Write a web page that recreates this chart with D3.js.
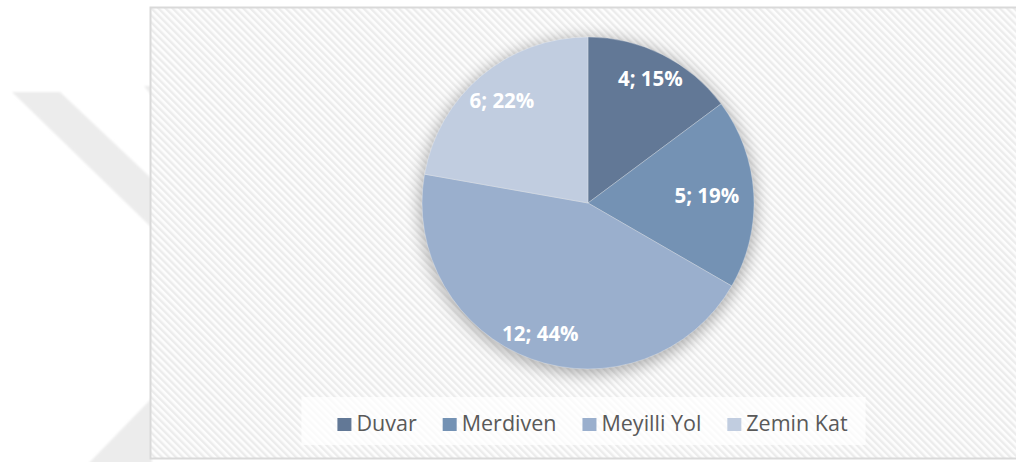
<!DOCTYPE html>
<html>
<head>
<meta charset="utf-8">
<script src="https://cdn.jsdelivr.net/npm/d3@7"></script>
<style>
  html, body { margin: 0; padding: 0; background: #ffffff; }
  svg { display: block; }
</style>
</head>
<body>
<svg id="chart" width="1016" height="462"></svg>
<script>
// Kategoriler ve sayılar
const categories = ["Duvar", "Merdiven", "Meyilli Yol", "Zemin Kat"];
const counts = [4, 5, 12, 6];
const sliceColors = ["#627896", "#7492b4", "#9aafcd", "#c1cde0"];

// Etiketlerin merkezden uzaklığı (yarıçap oranı)
const labelRadiusFrac = [0.837, 0.717, 0.84, 0.807];

const W = 1016, H = 462;
const svg = d3.select("#chart");
const defs = svg.append("defs");

// Arka plan çizgi deseni
const pat = defs.append("pattern")
  .attr("id", "hatch")
  .attr("patternUnits", "userSpaceOnUse")
  .attr("width", 5).attr("height", 5)
  .attr("patternTransform", "rotate(-45)");
pat.append("rect").attr("width", 5).attr("height", 5).attr("fill", "#fdfdfd");
pat.append("rect").attr("width", 2.4).attr("height", 5).attr("fill", "#ececec");

// Pasta gölgesi
const shadow = defs.append("filter").attr("id", "pieShadow")
  .attr("x", "-30%").attr("y", "-30%").attr("width", "160%").attr("height", "160%");
shadow.append("feGaussianBlur").attr("stdDeviation", 8);

const soft = defs.append("filter").attr("id", "soft");
soft.append("feGaussianBlur").attr("stdDeviation", 1.2);

// Sol taraftaki soluk filigran
const mark = svg.append("g").attr("fill", "#ececec").attr("filter", "url(#soft)");
mark.append("polygon").attr("points", "12,92 60,92 152,179 152,228");
mark.append("polygon").attr("points", "88,464 152,398 152,464");
mark.append("polygon").attr("points", "144,86 152,86 152,96");

// Grafik alanı
svg.append("rect")
  .attr("x", 150.5).attr("y", 7.5)
  .attr("width", 900).attr("height", 451)
  .attr("fill", "url(#hatch)")
  .attr("stroke", "#d9d9d9").attr("stroke-width", 2);

// Pasta grafiği
const cx = 588, cy = 203, R = 166;
const total = d3.sum(counts);
const pie = d3.pie().sort(null).value(d => d.value);
const data = pie(categories.map((c, i) => ({ name: c, value: counts[i], i })));
const arc = d3.arc().innerRadius(0).outerRadius(R);

const g = svg.append("g").attr("transform", `translate(${cx},${cy})`);

g.append("circle")
  .attr("cx", 0).attr("cy", 3).attr("r", R + 2)
  .attr("fill", "#000").attr("opacity", 0.3)
  .attr("filter", "url(#pieShadow)");

g.selectAll("path.slice")
  .data(data)
  .join("path")
  .attr("class", "slice")
  .attr("d", arc)
  .attr("fill", d => sliceColors[d.data.i])
  .attr("stroke", "#ffffff")
  .attr("stroke-opacity", 0.35)
  .attr("stroke-width", 0.8);

// Dilim etiketleri: "sayı; yüzde"
g.selectAll("text.lbl")
  .data(data)
  .join("text")
  .attr("class", "lbl")
  .attr("transform", d => {
    const a = (d.startAngle + d.endAngle) / 2;
    const r = R * labelRadiusFrac[d.data.i];
    return `translate(${r * Math.sin(a)},${-r * Math.cos(a)})`;
  })
  .attr("text-anchor", "middle")
  .attr("dy", "0.36em")
  .attr("font-family", "'Open Sans', Calibri, sans-serif")
  .attr("font-weight", "bold")
  .attr("font-size", 20.5)
  .attr("fill", "#ffffff")
  .text(d => `${d.data.value}; ${Math.round(d.data.value / total * 100)}%`);

// Lejant
const legendBox = svg.append("rect")
  .attr("fill", "#ffffff").attr("opacity", 0.75);
const legend = svg.append("g");
const sw = 14, gapSwText = 5, gapItems = 26, legendBaseline = 431, legendCenter = 592.5;
const items = legend.selectAll("g.item")
  .data(categories)
  .join("g").attr("class", "item");
items.append("rect")
  .attr("width", sw).attr("height", 13)
  .attr("y", legendBaseline - 13)
  .attr("fill", (d, i) => sliceColors[i]);
items.append("text")
  .attr("x", sw + gapSwText)
  .attr("y", legendBaseline)
  .attr("font-family", "'Open Sans', Calibri, sans-serif")
  .attr("font-size", 21.5)
  .attr("fill", "#595959")
  .text(d => d);

const widths = [];
items.each(function () {
  widths.push(sw + gapSwText + d3.select(this).select("text").node().getComputedTextLength());
});
const totalW = d3.sum(widths) + gapItems * (widths.length - 1);
let xPos = legendCenter - totalW / 2;
items.each(function (d, i) {
  d3.select(this).attr("transform", `translate(${xPos},0)`);
  xPos += widths[i] + gapItems;
});
legendBox
  .attr("x", legendCenter - totalW / 2 - 36)
  .attr("y", 397)
  .attr("width", totalW + 54)
  .attr("height", 48);
</script>
</body>
</html>
